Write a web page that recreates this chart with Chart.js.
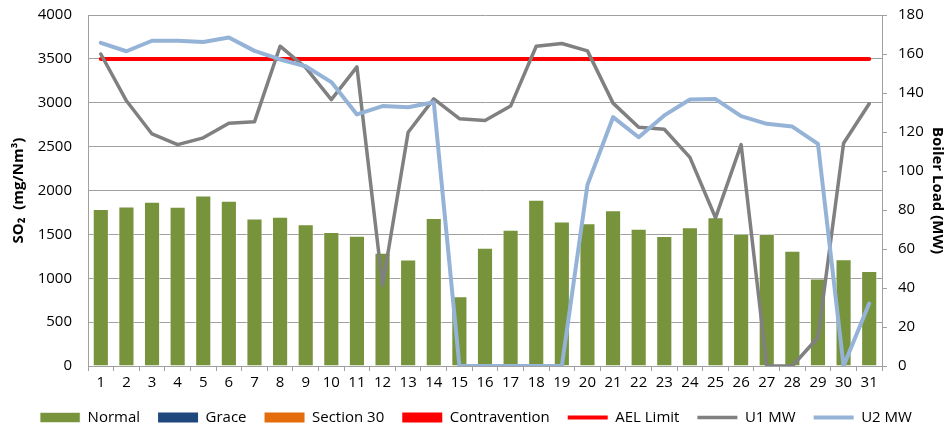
<!DOCTYPE html>
<html>
<head>
<meta charset="utf-8">
<script src="https://cdn.jsdelivr.net/npm/chart.js@4"></script>
<style>
  html, body { margin: 0; padding: 0; background: #fff; }
  #wrap { width: 952px; height: 431px; }
</style>
</head>
<body>
<div id="wrap"><canvas id="grafico" width="952" height="431"></canvas></div>
<script>
// dias del mes
const days = ['1','2','3','4','5','6','7','8','9','10','11','12','13','14','15','16',
              '17','18','19','20','21','22','23','24','25','26','27','28','29','30','31'];

// SO2 (mg/Nm3) - eje izquierdo
const normal = [1790,1818,1872,1814,1942,1884,1680,1702,1616,1527,1484,1290,1215,1686,796,1348,
                1554,1895,1646,1628,1776,1563,1482,1581,1696,1508,1505,1313,998,1216,1082];
const grace = [];
const section30 = [];
const contravention = [];
const aelLimit = days.map(() => 3500);

// carga de caldera (MW) - eje derecho
const u1MW = [160,136,119,113.5,117,124.5,125.2,164,153,136.6,153.4,41.4,119.9,137,126.8,125.9,
              133.3,164,165.4,161.6,134.8,122.4,121.4,107,76,113.5,0,0,14.6,114.2,134.5];
const u2MW = [165.7,161.4,166.8,166.8,166.2,168.5,161.6,157.2,153.7,145.6,129,133.3,132.7,135.3,0,0,
              0,0,0,92.9,127.6,117.3,128.5,136.7,136.9,128.1,124.2,122.8,113.9,0,32];

const leftTicks = [0,500,1000,1500,2000,2500,3000,3500,4000];
const rightTicks = [0,20,40,60,80,100,120,140,160,180];

const FONT = "'Open Sans', 'DejaVu Sans', sans-serif";
const GRID = '#A0A0A0';

Chart.defaults.font.family = FONT;
Chart.defaults.font.size = 15;
Chart.defaults.color = '#000';

const barDs = (label, data, color) => ({
    type: 'bar',
    label: label,
    data: data,
    yAxisID: 'y',
    backgroundColor: color,
    borderColor: 'rgba(255,255,255,0.55)',
    borderWidth: data.length ? 1 : 0,
    barPercentage: 0.63,
    categoryPercentage: 1,
    grouped: false,
    pointStyle: 'rect',
    order: 5
});

const lineDs = (label, data, color, width, axis, order) => ({
    type: 'line',
    label: label,
    data: data,
    yAxisID: axis,
    borderColor: color,
    backgroundColor: color,
    borderWidth: width,
    borderCapStyle: 'round',
    borderJoinStyle: 'round',
    pointRadius: 0,
    pointStyle: 'line',
    tension: 0,
    order: order
});

// quita el relleno automatico de las etiquetas para fijar el area
const noPad = (s) => { s.paddingTop = 0; s.paddingBottom = 0; };

const ctx = document.getElementById('grafico').getContext('2d');
new Chart(ctx, {
    data: {
        labels: days,
        datasets: [
            barDs('Normal', normal, '#77933C'),
            barDs('Grace', grace, '#1F497D'),
            barDs('Section 30', section30, '#E46C0A'),
            barDs('Contravention', contravention, '#FF0000'),
            lineDs('AEL Limit', aelLimit, '#FF0000', 4, 'y', 3),
            lineDs('U1 MW', u1MW, '#808080', 3.5, 'y1', 2),
            lineDs('U2 MW', u2MW, '#95B3D7', 4, 'y1', 1)
        ]
    },
    options: {
        responsive: false,
        animation: false,
        layout: { padding: { top: 15, left: 0, right: 0, bottom: -4 } },
        plugins: {
            tooltip: { enabled: false },
            legend: {
                position: 'bottom',
                labels: {
                    usePointStyle: true,
                    pointStyleWidth: 40,
                    boxHeight: 10,
                    padding: 18,
                    font: { size: 15 },
                    sort: (a, b) => a.datasetIndex - b.datasetIndex
                }
            }
        },
        scales: {
            x: {
                offset: true,
                grid: { offset: true, drawOnChartArea: false, color: GRID, tickLength: 5 },
                border: { color: GRID },
                ticks: { padding: 3, maxRotation: 0, autoSkip: false },
                afterFit: (s) => { s.height = 26; s.paddingLeft = 0; s.paddingRight = 0; }
            },
            y: {
                position: 'left',
                min: 0, max: 4000,
                afterBuildTicks: (s) => { s.ticks = leftTicks.map(v => ({ value: v })); },
                grid: { color: GRID, drawTicks: false },
                border: { color: GRID },
                ticks: { padding: 16, callback: (v) => String(v) },
                title: {
                    display: true,
                    text: 'SO\u2082  (mg/Nm\u00B3)',
                    font: { size: 15, weight: 'bold' },
                    padding: { top: 10, bottom: 0 }
                },
                afterFit: (s) => { s.width = 88; noPad(s); }
            },
            y1: {
                position: 'right',
                min: 0, max: 180,
                afterBuildTicks: (s) => { s.ticks = rightTicks.map(v => ({ value: v })); },
                grid: { drawOnChartArea: false, color: GRID, tickLength: 5 },
                border: { color: GRID },
                ticks: { padding: 11, callback: (v) => String(v) },
                title: {
                    display: true,
                    text: 'Boiler Load (MW)',
                    font: { size: 15, weight: 'bold' },
                    padding: { top: 6, bottom: 0 }
                },
                afterFit: (s) => { s.width = 70; noPad(s); }
            }
        }
    }
});
</script>
</body>
</html>
